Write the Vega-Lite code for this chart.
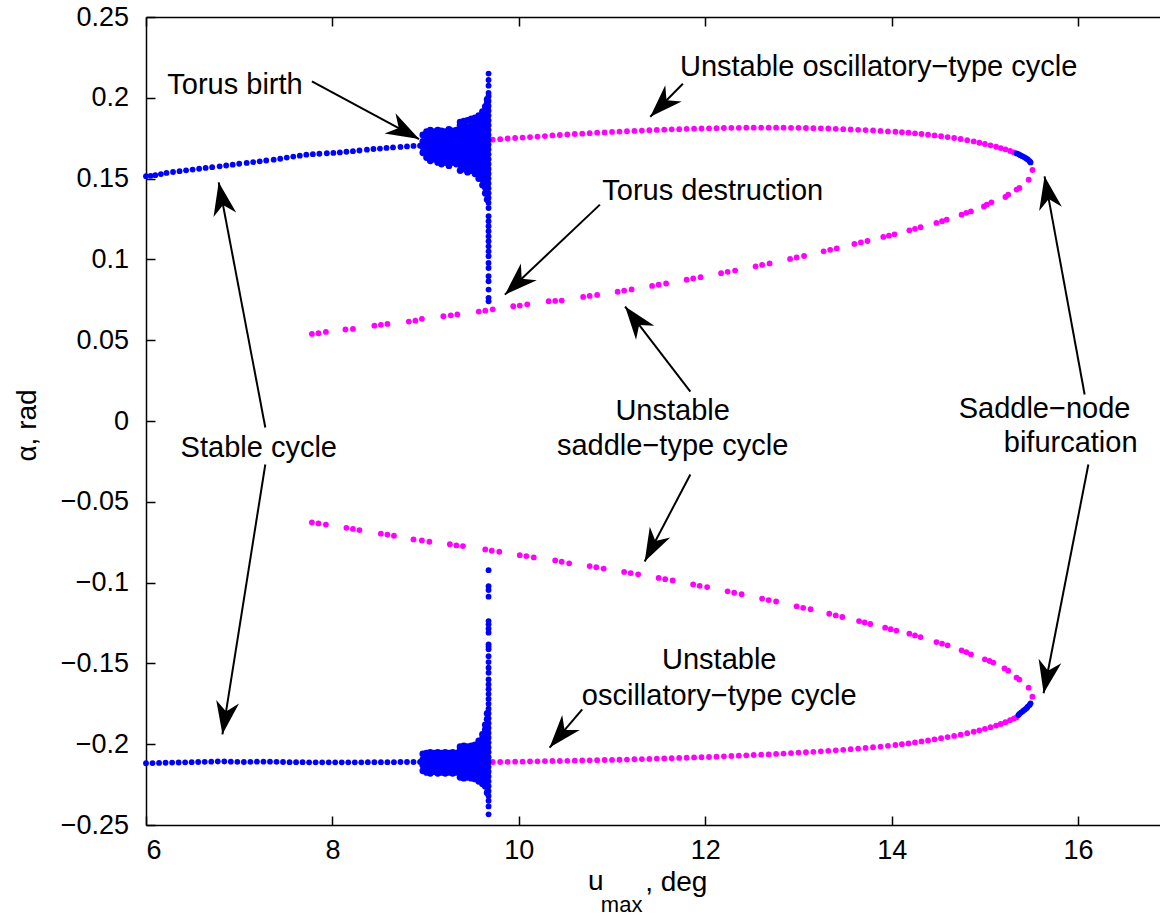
{
"$schema":"https://vega.github.io/schema/vega-lite/v6.json",
"width":1016,"height":808,
"autosize":{"type":"none"},
"padding":{"left":146,"top":17,"right":0,"bottom":93},
"background":"white",
"config":{"view":{"stroke":null},"font":"Liberation Sans",
 "axis":{"grid":false,"domainColor":"#000","domainWidth":1.5,"tickColor":"#000","tickWidth":1.5,"tickSize":-9,"labelColor":"#000","labelFont":"Liberation Sans","labelFontSize":27,"titleFont":"Liberation Sans","titleFontWeight":"normal","titleColor":"#000"}},
"datasets":{
"stable":[
{"u":6.00,"a":0.1515},{"u":6.05,"a":0.1517},{"u":6.10,"a":0.1521},{"u":6.16,"a":0.1528},{"u":6.22,"a":0.1535},{"u":6.29,"a":0.1541},{"u":6.36,"a":0.1546},{"u":6.43,"a":0.1551},{"u":6.50,"a":0.1556},{"u":6.57,"a":0.1561},{"u":6.64,"a":0.1566},{"u":6.71,"a":0.1571},{"u":6.79,"a":0.1576},{"u":6.86,"a":0.1581},{"u":6.93,"a":0.1586},{"u":7.00,"a":0.1592},{"u":7.08,"a":0.1597},{"u":7.15,"a":0.1602},{"u":7.22,"a":0.1607},{"u":7.29,"a":0.1612},{"u":7.37,"a":0.1617},{"u":7.44,"a":0.1623},{"u":7.51,"a":0.1630},{"u":7.58,"a":0.1636},{"u":7.65,"a":0.1642},{"u":7.72,"a":0.1648},{"u":7.79,"a":0.1651},{"u":7.86,"a":0.1654},{"u":7.94,"a":0.1657},{"u":8.01,"a":0.1659},{"u":8.08,"a":0.1662},{"u":8.15,"a":0.1666},{"u":8.22,"a":0.1670},{"u":8.29,"a":0.1674},{"u":8.37,"a":0.1679},{"u":8.44,"a":0.1683},{"u":8.51,"a":0.1686},{"u":8.58,"a":0.1690},{"u":8.65,"a":0.1693},{"u":8.73,"a":0.1696},{"u":8.80,"a":0.1699},{"u":8.87,"a":0.1702},{"u":8.94,"a":0.1704},
{"u":9.675,"a":0.135},{"u":9.675,"a":0.138},{"u":9.675,"a":0.141},{"u":9.675,"a":0.144},{"u":9.675,"a":0.147},{"u":9.675,"a":0.15},{"u":9.675,"a":0.153},{"u":9.675,"a":0.156},{"u":9.675,"a":0.159},{"u":9.675,"a":0.162},{"u":9.675,"a":0.165},{"u":9.675,"a":0.168},{"u":9.675,"a":0.171},{"u":9.675,"a":0.174},{"u":9.675,"a":0.177},{"u":9.675,"a":0.18},{"u":9.675,"a":0.183},{"u":9.675,"a":0.186},{"u":9.675,"a":0.189},{"u":9.675,"a":0.192},{"u":9.675,"a":0.195},{"u":9.675,"a":0.198},{"u":9.675,"a":0.201},{"u":9.675,"a":0.203},{"u":9.675,"a":0.2075},{"u":9.675,"a":0.211},{"u":9.675,"a":0.215},
{"u":9.675,"a":0.1318},{"u":9.675,"a":0.1267},{"u":9.675,"a":0.1236},{"u":9.675,"a":0.1205},{"u":9.675,"a":0.1174},{"u":9.675,"a":0.1143},{"u":9.675,"a":0.1113},{"u":9.675,"a":0.1081},{"u":9.675,"a":0.105},{"u":9.675,"a":0.102},{"u":9.675,"a":0.0978},{"u":9.675,"a":0.0947},{"u":9.675,"a":0.0896},{"u":9.675,"a":0.0865},{"u":9.675,"a":0.0813},{"u":9.675,"a":0.0762},{"u":9.675,"a":0.0741},
{"u":15.34,"a":0.1656},{"u":15.36,"a":0.1651},{"u":15.38,"a":0.1645},{"u":15.40,"a":0.1639},{"u":15.42,"a":0.1633},{"u":15.44,"a":0.1626},{"u":15.46,"a":0.1618},{"u":15.48,"a":0.1608},{"u":15.49,"a":0.1600},
{"u":6.00,"a":-0.2118},{"u":6.07,"a":-0.2117},{"u":6.14,"a":-0.2116},{"u":6.21,"a":-0.2115},{"u":6.28,"a":-0.2114},{"u":6.35,"a":-0.2113},{"u":6.42,"a":-0.2112},{"u":6.49,"a":-0.2111},{"u":6.56,"a":-0.2110},{"u":6.63,"a":-0.2109},{"u":6.70,"a":-0.2108},{"u":6.77,"a":-0.2107},{"u":6.84,"a":-0.2107},{"u":6.91,"a":-0.2108},{"u":6.98,"a":-0.2109},{"u":7.05,"a":-0.2110},{"u":7.12,"a":-0.2109},{"u":7.19,"a":-0.2108},{"u":7.26,"a":-0.2108},{"u":7.33,"a":-0.2108},{"u":7.40,"a":-0.2109},{"u":7.47,"a":-0.2110},{"u":7.54,"a":-0.2111},{"u":7.61,"a":-0.2111},{"u":7.68,"a":-0.2111},{"u":7.75,"a":-0.2112},{"u":7.82,"a":-0.2112},{"u":7.89,"a":-0.2112},{"u":7.96,"a":-0.2112},{"u":8.03,"a":-0.2112},{"u":8.10,"a":-0.2112},{"u":8.17,"a":-0.2112},{"u":8.24,"a":-0.2112},{"u":8.31,"a":-0.2112},{"u":8.38,"a":-0.2111},{"u":8.45,"a":-0.2111},{"u":8.52,"a":-0.2111},{"u":8.59,"a":-0.2111},{"u":8.66,"a":-0.2111},{"u":8.73,"a":-0.2110},{"u":8.80,"a":-0.2110},{"u":8.87,"a":-0.2110},{"u":8.94,"a":-0.2110},
{"u":9.675,"a":-0.2434},{"u":9.675,"a":-0.2385},{"u":9.675,"a":-0.235},{"u":9.675,"a":-0.232},{"u":9.675,"a":-0.229},{"u":9.675,"a":-0.226},{"u":9.675,"a":-0.223},{"u":9.675,"a":-0.22},{"u":9.675,"a":-0.217},{"u":9.675,"a":-0.214},{"u":9.675,"a":-0.211},{"u":9.675,"a":-0.208},{"u":9.675,"a":-0.205},{"u":9.675,"a":-0.202},{"u":9.675,"a":-0.199},{"u":9.675,"a":-0.196},{"u":9.675,"a":-0.193},{"u":9.675,"a":-0.19},{"u":9.675,"a":-0.187},{"u":9.675,"a":-0.184},{"u":9.675,"a":-0.181},{"u":9.675,"a":-0.178},{"u":9.675,"a":-0.175},{"u":9.675,"a":-0.172},{"u":9.675,"a":-0.169},{"u":9.675,"a":-0.166},
{"u":9.675,"a":-0.163},{"u":9.675,"a":-0.1599},{"u":9.675,"a":-0.1558},{"u":9.675,"a":-0.1527},{"u":9.675,"a":-0.1492},{"u":9.675,"a":-0.1455},{"u":9.675,"a":-0.1413},{"u":9.675,"a":-0.1397},{"u":9.675,"a":-0.1382},{"u":9.675,"a":-0.131},{"u":9.675,"a":-0.1285},{"u":9.675,"a":-0.1258},{"u":9.675,"a":-0.1238},{"u":9.675,"a":-0.1087},{"u":9.675,"a":-0.1046},{"u":9.675,"a":-0.1022},{"u":9.675,"a":-0.0923},
{"u":15.49,"a":-0.1747},{"u":15.48,"a":-0.1757},{"u":15.46,"a":-0.1767},{"u":15.45,"a":-0.1776},{"u":15.43,"a":-0.1785},{"u":15.41,"a":-0.1794},{"u":15.39,"a":-0.1803},{"u":15.37,"a":-0.1812},{"u":15.36,"a":-0.1820}
],
"torus":[
{"u":8.97,"a":0.166},{"u":8.97,"a":0.1695},{"u":8.97,"a":0.173},{"u":8.97,"a":0.177},
{"u":9.01,"a":0.163},{"u":9.01,"a":0.1665},{"u":9.01,"a":0.17},{"u":9.01,"a":0.1735},{"u":9.01,"a":0.177},{"u":9.01,"a":0.179},
{"u":9.05,"a":0.161},{"u":9.05,"a":0.1645},{"u":9.05,"a":0.168},{"u":9.05,"a":0.1715},{"u":9.05,"a":0.175},{"u":9.05,"a":0.178},{"u":9.05,"a":0.18},
{"u":9.09,"a":0.162},{"u":9.09,"a":0.1655},{"u":9.09,"a":0.169},{"u":9.09,"a":0.1725},{"u":9.09,"a":0.176},{"u":9.09,"a":0.179},
{"u":9.13,"a":0.16},{"u":9.13,"a":0.1635},{"u":9.13,"a":0.167},{"u":9.13,"a":0.1705},{"u":9.13,"a":0.174},{"u":9.13,"a":0.1775},{"u":9.13,"a":0.18},
{"u":9.17,"a":0.159},{"u":9.17,"a":0.1625},{"u":9.17,"a":0.166},{"u":9.17,"a":0.1695},{"u":9.17,"a":0.173},{"u":9.17,"a":0.1765},{"u":9.17,"a":0.1795},
{"u":9.21,"a":0.16},{"u":9.21,"a":0.1635},{"u":9.21,"a":0.167},{"u":9.21,"a":0.1705},{"u":9.21,"a":0.174},{"u":9.21,"a":0.1775},{"u":9.21,"a":0.179},
{"u":9.25,"a":0.158},{"u":9.25,"a":0.1615},{"u":9.25,"a":0.165},{"u":9.25,"a":0.1685},{"u":9.25,"a":0.172},{"u":9.25,"a":0.1755},{"u":9.25,"a":0.179},{"u":9.25,"a":0.1805},
{"u":9.29,"a":0.16},{"u":9.29,"a":0.1635},{"u":9.29,"a":0.167},{"u":9.29,"a":0.1705},{"u":9.29,"a":0.174},{"u":9.29,"a":0.1775},{"u":9.29,"a":0.1795},
{"u":9.33,"a":0.159},{"u":9.33,"a":0.1625},{"u":9.33,"a":0.166},{"u":9.33,"a":0.1695},{"u":9.33,"a":0.173},{"u":9.33,"a":0.1765},{"u":9.33,"a":0.18},
{"u":9.37,"a":0.155},{"u":9.37,"a":0.1585},{"u":9.37,"a":0.162},{"u":9.37,"a":0.1655},{"u":9.37,"a":0.169},{"u":9.37,"a":0.1725},{"u":9.37,"a":0.176},{"u":9.37,"a":0.1795},{"u":9.37,"a":0.183},{"u":9.37,"a":0.185},
{"u":9.41,"a":0.156},{"u":9.41,"a":0.1595},{"u":9.41,"a":0.163},{"u":9.41,"a":0.1665},{"u":9.41,"a":0.17},{"u":9.41,"a":0.1735},{"u":9.41,"a":0.177},{"u":9.41,"a":0.1805},{"u":9.41,"a":0.184},{"u":9.41,"a":0.1855},
{"u":9.45,"a":0.154},{"u":9.45,"a":0.1575},{"u":9.45,"a":0.161},{"u":9.45,"a":0.1645},{"u":9.45,"a":0.168},{"u":9.45,"a":0.1715},{"u":9.45,"a":0.175},{"u":9.45,"a":0.1785},{"u":9.45,"a":0.182},{"u":9.45,"a":0.186},
{"u":9.49,"a":0.155},{"u":9.49,"a":0.1585},{"u":9.49,"a":0.162},{"u":9.49,"a":0.1655},{"u":9.49,"a":0.169},{"u":9.49,"a":0.1725},{"u":9.49,"a":0.176},{"u":9.49,"a":0.1795},{"u":9.49,"a":0.183},{"u":9.49,"a":0.187},
{"u":9.53,"a":0.153},{"u":9.53,"a":0.1565},{"u":9.53,"a":0.16},{"u":9.53,"a":0.1635},{"u":9.53,"a":0.167},{"u":9.53,"a":0.1705},{"u":9.53,"a":0.174},{"u":9.53,"a":0.1775},{"u":9.53,"a":0.181},{"u":9.53,"a":0.1845},{"u":9.53,"a":0.1875},
{"u":9.57,"a":0.15},{"u":9.57,"a":0.1535},{"u":9.57,"a":0.157},{"u":9.57,"a":0.1605},{"u":9.57,"a":0.164},{"u":9.57,"a":0.1675},{"u":9.57,"a":0.171},{"u":9.57,"a":0.1745},{"u":9.57,"a":0.178},{"u":9.57,"a":0.1815},{"u":9.57,"a":0.185},{"u":9.57,"a":0.189},
{"u":9.61,"a":0.146},{"u":9.61,"a":0.1495},{"u":9.61,"a":0.153},{"u":9.61,"a":0.1565},{"u":9.61,"a":0.16},{"u":9.61,"a":0.1635},{"u":9.61,"a":0.167},{"u":9.61,"a":0.1705},{"u":9.61,"a":0.174},{"u":9.61,"a":0.1775},{"u":9.61,"a":0.181},{"u":9.61,"a":0.1845},{"u":9.61,"a":0.188},{"u":9.61,"a":0.1915},
{"u":9.64,"a":0.141},{"u":9.64,"a":0.1445},{"u":9.64,"a":0.148},{"u":9.64,"a":0.1515},{"u":9.64,"a":0.155},{"u":9.64,"a":0.1585},{"u":9.64,"a":0.162},{"u":9.64,"a":0.1655},{"u":9.64,"a":0.169},{"u":9.64,"a":0.1725},{"u":9.64,"a":0.176},{"u":9.64,"a":0.1795},{"u":9.64,"a":0.183},{"u":9.64,"a":0.1865},{"u":9.64,"a":0.19},{"u":9.64,"a":0.1945},
{"u":9.66,"a":0.137},{"u":9.66,"a":0.1405},{"u":9.66,"a":0.144},{"u":9.66,"a":0.1475},{"u":9.66,"a":0.151},{"u":9.66,"a":0.1545},{"u":9.66,"a":0.158},{"u":9.66,"a":0.1615},{"u":9.66,"a":0.165},{"u":9.66,"a":0.1685},{"u":9.66,"a":0.172},{"u":9.66,"a":0.1755},{"u":9.66,"a":0.179},{"u":9.66,"a":0.1825},{"u":9.66,"a":0.186},{"u":9.66,"a":0.1895},{"u":9.66,"a":0.193},{"u":9.66,"a":0.1965},{"u":9.66,"a":0.199},
{"u":8.97,"a":-0.2165},{"u":8.97,"a":-0.213},{"u":8.97,"a":-0.2095},{"u":8.97,"a":-0.206},
{"u":9.01,"a":-0.2175},{"u":9.01,"a":-0.214},{"u":9.01,"a":-0.2105},{"u":9.01,"a":-0.207},{"u":9.01,"a":-0.2055},
{"u":9.05,"a":-0.218},{"u":9.05,"a":-0.2145},{"u":9.05,"a":-0.211},{"u":9.05,"a":-0.2075},{"u":9.05,"a":-0.205},
{"u":9.09,"a":-0.217},{"u":9.09,"a":-0.2135},{"u":9.09,"a":-0.21},{"u":9.09,"a":-0.2065},{"u":9.09,"a":-0.2055},
{"u":9.13,"a":-0.218},{"u":9.13,"a":-0.2145},{"u":9.13,"a":-0.211},{"u":9.13,"a":-0.2075},{"u":9.13,"a":-0.205},
{"u":9.17,"a":-0.2175},{"u":9.17,"a":-0.214},{"u":9.17,"a":-0.2105},{"u":9.17,"a":-0.207},{"u":9.17,"a":-0.2055},
{"u":9.21,"a":-0.218},{"u":9.21,"a":-0.2145},{"u":9.21,"a":-0.211},{"u":9.21,"a":-0.2075},{"u":9.21,"a":-0.205},
{"u":9.25,"a":-0.2175},{"u":9.25,"a":-0.214},{"u":9.25,"a":-0.2105},{"u":9.25,"a":-0.207},{"u":9.25,"a":-0.2055},
{"u":9.29,"a":-0.218},{"u":9.29,"a":-0.2145},{"u":9.29,"a":-0.211},{"u":9.29,"a":-0.2075},{"u":9.29,"a":-0.205},
{"u":9.33,"a":-0.2175},{"u":9.33,"a":-0.214},{"u":9.33,"a":-0.2105},{"u":9.33,"a":-0.207},{"u":9.33,"a":-0.2055},
{"u":9.37,"a":-0.2205},{"u":9.37,"a":-0.217},{"u":9.37,"a":-0.2135},{"u":9.37,"a":-0.21},{"u":9.37,"a":-0.2065},{"u":9.37,"a":-0.203},{"u":9.37,"a":-0.2015},
{"u":9.41,"a":-0.221},{"u":9.41,"a":-0.2175},{"u":9.41,"a":-0.214},{"u":9.41,"a":-0.2105},{"u":9.41,"a":-0.207},{"u":9.41,"a":-0.2035},{"u":9.41,"a":-0.201},
{"u":9.45,"a":-0.2205},{"u":9.45,"a":-0.217},{"u":9.45,"a":-0.2135},{"u":9.45,"a":-0.21},{"u":9.45,"a":-0.2065},{"u":9.45,"a":-0.203},{"u":9.45,"a":-0.2015},
{"u":9.49,"a":-0.221},{"u":9.49,"a":-0.2175},{"u":9.49,"a":-0.214},{"u":9.49,"a":-0.2105},{"u":9.49,"a":-0.207},{"u":9.49,"a":-0.2035},{"u":9.49,"a":-0.201},
{"u":9.53,"a":-0.2215},{"u":9.53,"a":-0.218},{"u":9.53,"a":-0.2145},{"u":9.53,"a":-0.211},{"u":9.53,"a":-0.2075},{"u":9.53,"a":-0.204},{"u":9.53,"a":-0.2005},
{"u":9.57,"a":-0.223},{"u":9.57,"a":-0.2195},{"u":9.57,"a":-0.216},{"u":9.57,"a":-0.2125},{"u":9.57,"a":-0.209},{"u":9.57,"a":-0.2055},{"u":9.57,"a":-0.202},{"u":9.57,"a":-0.198},
{"u":9.61,"a":-0.2245},{"u":9.61,"a":-0.221},{"u":9.61,"a":-0.2175},{"u":9.61,"a":-0.214},{"u":9.61,"a":-0.2105},{"u":9.61,"a":-0.207},{"u":9.61,"a":-0.2035},{"u":9.61,"a":-0.2},{"u":9.61,"a":-0.1965},{"u":9.61,"a":-0.194},
{"u":9.64,"a":-0.226},{"u":9.64,"a":-0.2225},{"u":9.64,"a":-0.219},{"u":9.64,"a":-0.2155},{"u":9.64,"a":-0.212},{"u":9.64,"a":-0.2085},{"u":9.64,"a":-0.205},{"u":9.64,"a":-0.2015},{"u":9.64,"a":-0.198},{"u":9.64,"a":-0.1945},{"u":9.64,"a":-0.191},{"u":9.64,"a":-0.188},
{"u":9.66,"a":-0.23},{"u":9.66,"a":-0.2265},{"u":9.66,"a":-0.223},{"u":9.66,"a":-0.2195},{"u":9.66,"a":-0.216},{"u":9.66,"a":-0.2125},{"u":9.66,"a":-0.209},{"u":9.66,"a":-0.2055},{"u":9.66,"a":-0.202},{"u":9.66,"a":-0.1985},{"u":9.66,"a":-0.195},{"u":9.66,"a":-0.1915},{"u":9.66,"a":-0.188},{"u":9.66,"a":-0.1845},{"u":9.66,"a":-0.181}
],
"unstable":[
{"u":9.72,"a":0.1741},{"u":9.80,"a":0.1744},{"u":9.88,"a":0.1748},{"u":9.96,"a":0.1751},{"u":10.04,"a":0.1754},{"u":10.12,"a":0.1757},{"u":10.20,"a":0.1760},{"u":10.28,"a":0.1763},{"u":10.36,"a":0.1767},{"u":10.44,"a":0.1770},{"u":10.52,"a":0.1773},{"u":10.60,"a":0.1776},{"u":10.68,"a":0.1778},{"u":10.76,"a":0.1781},{"u":10.84,"a":0.1784},{"u":10.92,"a":0.1786},{"u":11.00,"a":0.1789},{"u":11.08,"a":0.1791},{"u":11.16,"a":0.1793},{"u":11.24,"a":0.1795},{"u":11.32,"a":0.1797},{"u":11.40,"a":0.1799},{"u":11.48,"a":0.1801},{"u":11.56,"a":0.1803},{"u":11.64,"a":0.1805},{"u":11.72,"a":0.1806},{"u":11.80,"a":0.1808},{"u":11.88,"a":0.1809},{"u":11.96,"a":0.1810},{"u":12.04,"a":0.1811},{"u":12.12,"a":0.1812},{"u":12.20,"a":0.1813},{"u":12.28,"a":0.1814},{"u":12.36,"a":0.1814},{"u":12.44,"a":0.1815},{"u":12.52,"a":0.1815},{"u":12.60,"a":0.1815},{"u":12.68,"a":0.1815},{"u":12.76,"a":0.1815},{"u":12.84,"a":0.1815},{"u":12.92,"a":0.1814},{"u":13.00,"a":0.1814},{"u":13.08,"a":0.1813},{"u":13.16,"a":0.1812},{"u":13.24,"a":0.1811},{"u":13.32,"a":0.1810},{"u":13.40,"a":0.1808},{"u":13.48,"a":0.1806},{"u":13.56,"a":0.1804},{"u":13.64,"a":0.1802},{"u":13.72,"a":0.1800},{"u":13.80,"a":0.1798},{"u":13.88,"a":0.1795},{"u":13.96,"a":0.1792},{"u":14.04,"a":0.1790},{"u":14.11,"a":0.1787},{"u":14.18,"a":0.1784},{"u":14.25,"a":0.1780},{"u":14.32,"a":0.1776},{"u":14.39,"a":0.1772},{"u":14.46,"a":0.1767},{"u":14.53,"a":0.1762},{"u":14.60,"a":0.1757},{"u":14.67,"a":0.1751},{"u":14.74,"a":0.1745},{"u":14.81,"a":0.1738},{"u":14.88,"a":0.1730},{"u":14.94,"a":0.1722},{"u":15.00,"a":0.1714},{"u":15.06,"a":0.1706},{"u":15.12,"a":0.1697},{"u":15.17,"a":0.1689},{"u":15.22,"a":0.1681},{"u":15.27,"a":0.1671},{"u":15.31,"a":0.1662},
{"u":15.51,"a":0.1553},
{"u":7.78,"a":0.0539},{"u":7.85,"a":0.0543},{"u":7.93,"a":0.0551},
{"u":8.14,"a":0.0566},{"u":8.22,"a":0.0570},
{"u":8.45,"a":0.0590},{"u":8.52,"a":0.0595},{"u":8.59,"a":0.0601},
{"u":8.82,"a":0.0615},{"u":8.89,"a":0.0621},{"u":8.96,"a":0.0632},
{"u":9.19,"a":0.0648},{"u":9.27,"a":0.0654},{"u":9.34,"a":0.0659},
{"u":9.57,"a":0.0677},{"u":9.64,"a":0.0683},{"u":9.72,"a":0.0691},
{"u":9.94,"a":0.0710},{"u":10.01,"a":0.0714},{"u":10.09,"a":0.0722},
{"u":10.32,"a":0.0741},{"u":10.39,"a":0.0743},{"u":10.46,"a":0.0745},
{"u":10.69,"a":0.0768},{"u":10.76,"a":0.0774},{"u":10.84,"a":0.0780},
{"u":11.06,"a":0.0800},{"u":11.13,"a":0.0807},{"u":11.21,"a":0.0814},
{"u":11.43,"a":0.0836},{"u":11.50,"a":0.0843},{"u":11.58,"a":0.0851},
{"u":11.80,"a":0.0874},{"u":11.87,"a":0.0882},{"u":11.95,"a":0.0890},
{"u":12.17,"a":0.0915},{"u":12.24,"a":0.0923},{"u":12.32,"a":0.0931},
{"u":12.54,"a":0.0957},{"u":12.61,"a":0.0966},{"u":12.69,"a":0.0975},
{"u":12.91,"a":0.1003},{"u":12.98,"a":0.1012},{"u":13.06,"a":0.1021},
{"u":13.27,"a":0.1050},{"u":13.34,"a":0.1059},{"u":13.41,"a":0.1068},
{"u":13.60,"a":0.1096},{"u":13.67,"a":0.1105},{"u":13.74,"a":0.1114},
{"u":13.91,"a":0.1139},{"u":13.97,"a":0.1147},{"u":14.03,"a":0.1155},
{"u":14.19,"a":0.1180},{"u":14.25,"a":0.1189},{"u":14.31,"a":0.1199},
{"u":14.48,"a":0.1226},{"u":14.54,"a":0.1236},{"u":14.59,"a":0.1246},
{"u":14.75,"a":0.1277},{"u":14.80,"a":0.1288},{"u":14.85,"a":0.1297},
{"u":14.99,"a":0.1328},{"u":15.02,"a":0.1339},{"u":15.07,"a":0.1353},
{"u":15.22,"a":0.1386},{"u":15.25,"a":0.1400},
{"u":15.34,"a":0.1432},{"u":15.37,"a":0.1442},
{"u":15.47,"a":0.1493},
{"u":7.78,"a":-0.0628},{"u":7.85,"a":-0.0634},{"u":7.93,"a":-0.0641},
{"u":8.15,"a":-0.0661},{"u":8.22,"a":-0.0668},{"u":8.29,"a":-0.0675},
{"u":8.52,"a":-0.0697},{"u":8.59,"a":-0.0703},{"u":8.66,"a":-0.0710},
{"u":8.87,"a":-0.0733},{"u":8.96,"a":-0.0739},{"u":9.04,"a":-0.0747},
{"u":9.26,"a":-0.0762},{"u":9.33,"a":-0.0770},{"u":9.40,"a":-0.0774},
{"u":9.64,"a":-0.0795},{"u":9.71,"a":-0.0803},{"u":9.79,"a":-0.0809},
{"u":10.01,"a":-0.0830},{"u":10.08,"a":-0.0836},{"u":10.16,"a":-0.0844},
{"u":10.39,"a":-0.0863},{"u":10.46,"a":-0.0871},{"u":10.54,"a":-0.0881},
{"u":10.76,"a":-0.0898},{"u":10.83,"a":-0.0905},{"u":10.91,"a":-0.0913},
{"u":11.13,"a":-0.0934},{"u":11.20,"a":-0.0941},{"u":11.28,"a":-0.0949},
{"u":11.50,"a":-0.0971},{"u":11.57,"a":-0.0979},{"u":11.65,"a":-0.0987},
{"u":11.87,"a":-0.1012},{"u":11.94,"a":-0.1020},{"u":12.02,"a":-0.1028},
{"u":12.24,"a":-0.1054},{"u":12.31,"a":-0.1063},{"u":12.39,"a":-0.1072},
{"u":12.61,"a":-0.1099},{"u":12.68,"a":-0.1108},{"u":12.76,"a":-0.1117},
{"u":12.98,"a":-0.1147},{"u":13.05,"a":-0.1156},{"u":13.13,"a":-0.1165},
{"u":13.33,"a":-0.1193},{"u":13.40,"a":-0.1203},{"u":13.47,"a":-0.1213},
{"u":13.65,"a":-0.1238},{"u":13.71,"a":-0.1247},{"u":13.77,"a":-0.1256},
{"u":13.93,"a":-0.1279},{"u":13.99,"a":-0.1288},{"u":14.05,"a":-0.1297},
{"u":14.19,"a":-0.1316},{"u":14.25,"a":-0.1327},{"u":14.31,"a":-0.1337},
{"u":14.48,"a":-0.1368},{"u":14.54,"a":-0.1378},{"u":14.60,"a":-0.1388},
{"u":14.75,"a":-0.1419},{"u":14.80,"a":-0.1430},{"u":14.85,"a":-0.1444},
{"u":15.00,"a":-0.1475},{"u":15.05,"a":-0.1485},{"u":15.09,"a":-0.1495},
{"u":15.21,"a":-0.1531},{"u":15.25,"a":-0.1545},
{"u":15.34,"a":-0.1588},{"u":15.37,"a":-0.1600},
{"u":15.47,"a":-0.1650},
{"u":15.51,"a":-0.1706},
{"u":9.72,"a":-0.2110},{"u":9.80,"a":-0.2110},{"u":9.88,"a":-0.2109},{"u":9.96,"a":-0.2108},{"u":10.04,"a":-0.2108},{"u":10.12,"a":-0.2107},{"u":10.20,"a":-0.2106},{"u":10.28,"a":-0.2105},{"u":10.36,"a":-0.2104},{"u":10.44,"a":-0.2104},{"u":10.52,"a":-0.2103},{"u":10.60,"a":-0.2102},{"u":10.68,"a":-0.2101},{"u":10.76,"a":-0.2100},{"u":10.84,"a":-0.2099},{"u":10.92,"a":-0.2098},{"u":11.00,"a":-0.2097},{"u":11.08,"a":-0.2096},{"u":11.16,"a":-0.2095},{"u":11.24,"a":-0.2093},{"u":11.32,"a":-0.2092},{"u":11.40,"a":-0.2091},{"u":11.48,"a":-0.2089},{"u":11.56,"a":-0.2088},{"u":11.64,"a":-0.2087},{"u":11.72,"a":-0.2085},{"u":11.80,"a":-0.2084},{"u":11.88,"a":-0.2082},{"u":11.96,"a":-0.2081},{"u":12.04,"a":-0.2079},{"u":12.12,"a":-0.2077},{"u":12.20,"a":-0.2075},{"u":12.28,"a":-0.2073},{"u":12.36,"a":-0.2071},{"u":12.44,"a":-0.2069},{"u":12.52,"a":-0.2067},{"u":12.60,"a":-0.2065},{"u":12.68,"a":-0.2063},{"u":12.76,"a":-0.2060},{"u":12.84,"a":-0.2058},{"u":12.92,"a":-0.2055},{"u":13.00,"a":-0.2052},{"u":13.08,"a":-0.2050},{"u":13.16,"a":-0.2047},{"u":13.24,"a":-0.2044},{"u":13.32,"a":-0.2041},{"u":13.40,"a":-0.2038},{"u":13.48,"a":-0.2035},{"u":13.56,"a":-0.2031},{"u":13.64,"a":-0.2027},{"u":13.72,"a":-0.2023},{"u":13.80,"a":-0.2019},{"u":13.88,"a":-0.2015},{"u":13.96,"a":-0.2010},{"u":14.04,"a":-0.2005},{"u":14.11,"a":-0.2000},{"u":14.18,"a":-0.1995},{"u":14.25,"a":-0.1989},{"u":14.32,"a":-0.1983},{"u":14.39,"a":-0.1977},{"u":14.46,"a":-0.1970},{"u":14.53,"a":-0.1963},{"u":14.60,"a":-0.1956},{"u":14.67,"a":-0.1949},{"u":14.74,"a":-0.1941},{"u":14.81,"a":-0.1932},{"u":14.88,"a":-0.1923},{"u":14.94,"a":-0.1914},{"u":15.00,"a":-0.1905},{"u":15.06,"a":-0.1895},{"u":15.12,"a":-0.1885},{"u":15.17,"a":-0.1875},{"u":15.22,"a":-0.1864},{"u":15.27,"a":-0.1852},{"u":15.31,"a":-0.1842},{"u":15.34,"a":-0.1833}
],
"arrows":[
{"u0":7.78,"a0":0.2101,"u1":8.93,"a1":0.1745},
{"u0":11.76,"a0":0.2087,"u1":11.41,"a1":0.1883},
{"u0":10.87,"a0":0.1339,"u1":9.85,"a1":0.0782},
{"u0":7.28,"a0":-0.004,"u1":6.78,"a1":0.1477},
{"u0":7.28,"a0":-0.0269,"u1":6.82,"a1":-0.1939},
{"u0":11.84,"a0":0.0182,"u1":11.14,"a1":0.0708},
{"u0":11.84,"a0":-0.0331,"u1":11.35,"a1":-0.0869},
{"u0":16.07,"a0":0.0164,"u1":15.64,"a1":0.1514},
{"u0":16.11,"a0":-0.0269,"u1":15.63,"a1":-0.1685},
{"u0":10.68,"a0":-0.1784,"u1":10.33,"a1":-0.2021}
],
"notes":[
{"text":"Torus birth","u":6.955,"a":0.2024},
{"text":"Unstable oscillatory−type cycle","u":13.86,"a":0.2135},
{"text":"Torus destruction","u":12.08,"a":0.1368},
{"text":"Stable cycle","u":7.21,"a":-0.0223},
{"text":"Unstable","u":11.65,"a":0.0006},
{"text":"saddle−type cycle","u":11.65,"a":-0.021},
{"text":"Saddle−node","u":15.64,"a":0.0019},
{"text":"bifurcation","u":15.92,"a":-0.0192},
{"text":"Unstable","u":12.15,"a":-0.1535},
{"text":"oscillatory−type cycle","u":12.15,"a":-0.1757}
],
"xtitle":[
{"text":"u","u":10.742,"a":-0.2902},
{"text":", deg","u":11.355,"a":-0.2908}
],
"xsub":[
{"text":"max","u":10.88,"a":-0.3038}
]
},
"resolve":{"axis":{"x":"independent"}},
"layer":[
{"data":{"name":"unstable"},
 "mark":{"type":"circle","size":34,"color":"#ff00ff","opacity":1},
 "encoding":{
  "x":{"field":"u","type":"quantitative","scale":{"domain":[6,16.9],"nice":false,"zero":false},
   "axis":{"orient":"bottom","values":[6,8,10,12,14,16],"format":"d","labelPadding":21,"title":null}},
  "y":{"field":"a","type":"quantitative","scale":{"domain":[-0.25,0.25],"nice":false,"zero":false},
   "axis":{"orient":"left","values":[-0.25,-0.2,-0.15,-0.1,-0.05,0,0.05,0.1,0.15,0.2,0.25],"format":"~g","labelPadding":26.5,
    "title":"α, rad","titleFontSize":28,"titleAngle":270,"titleX":-111,"titleY":408,"titleAlign":"center","titleBaseline":"alphabetic"}}}},
{"data":{"name":"stable"},
 "mark":{"type":"circle","size":34,"color":"#0000ff","opacity":1},
 "encoding":{
  "x":{"field":"u","type":"quantitative","scale":{"domain":[6,16.9],"nice":false,"zero":false},
   "axis":{"orient":"top","values":[6,8,10,12,14,16],"labels":false,"title":null}},
  "y":{"field":"a","type":"quantitative","scale":{"domain":[-0.25,0.25],"nice":false,"zero":false}}}},
{"data":{"name":"torus"},
 "mark":{"type":"circle","size":46,"color":"#0000ff","opacity":1},
 "encoding":{
  "x":{"field":"u","type":"quantitative","scale":{"domain":[6,16.9],"nice":false,"zero":false},"axis":null},
  "y":{"field":"a","type":"quantitative","scale":{"domain":[-0.25,0.25],"nice":false,"zero":false}}}},
{"data":{"name":"arrows"},
 "mark":{"type":"rule","color":"#000","strokeWidth":2},
 "encoding":{
  "x":{"field":"u0","type":"quantitative","scale":{"domain":[6,16.9],"nice":false,"zero":false},"axis":null},
  "y":{"field":"a0","type":"quantitative","scale":{"domain":[-0.25,0.25],"nice":false,"zero":false}},
  "x2":{"field":"u1"},"y2":{"field":"a1"}}},
{"data":{"name":"arrows"},
 "transform":[{"calculate":"atan2((datum.u1-datum.u0)*93.21,(datum.a1-datum.a0)*1616)*180/PI","as":"ang"}],
 "mark":{"type":"point","shape":"M0,0L0.7,2L0,1.4L-0.7,2Z","filled":true,"size":1089,"color":"#000","opacity":1,"strokeWidth":0},
 "encoding":{
  "x":{"field":"u1","type":"quantitative","scale":{"domain":[6,16.9],"nice":false,"zero":false},"axis":null},
  "y":{"field":"a1","type":"quantitative","scale":{"domain":[-0.25,0.25],"nice":false,"zero":false}},
  "angle":{"field":"ang","type":"quantitative","scale":null}}},
{"data":{"name":"notes"},
 "mark":{"type":"text","fontSize":29,"align":"center","baseline":"alphabetic","color":"#000","font":"Liberation Sans"},
 "encoding":{
  "x":{"field":"u","type":"quantitative","scale":{"domain":[6,16.9],"nice":false,"zero":false},"axis":null},
  "y":{"field":"a","type":"quantitative","scale":{"domain":[-0.25,0.25],"nice":false,"zero":false}},
  "text":{"field":"text"}}},
{"data":{"name":"xtitle"},
 "mark":{"type":"text","fontSize":28,"align":"left","baseline":"alphabetic","color":"#000","font":"Liberation Sans"},
 "encoding":{
  "x":{"field":"u","type":"quantitative","scale":{"domain":[6,16.9],"nice":false,"zero":false},"axis":null},
  "y":{"field":"a","type":"quantitative","scale":{"domain":[-0.25,0.25],"nice":false,"zero":false}},
  "text":{"field":"text"}}},
{"data":{"name":"xsub"},
 "mark":{"type":"text","fontSize":22,"align":"left","baseline":"alphabetic","color":"#000","font":"Liberation Sans"},
 "encoding":{
  "x":{"field":"u","type":"quantitative","scale":{"domain":[6,16.9],"nice":false,"zero":false},"axis":null},
  "y":{"field":"a","type":"quantitative","scale":{"domain":[-0.25,0.25],"nice":false,"zero":false}},
  "text":{"field":"text"}}}
]
}
